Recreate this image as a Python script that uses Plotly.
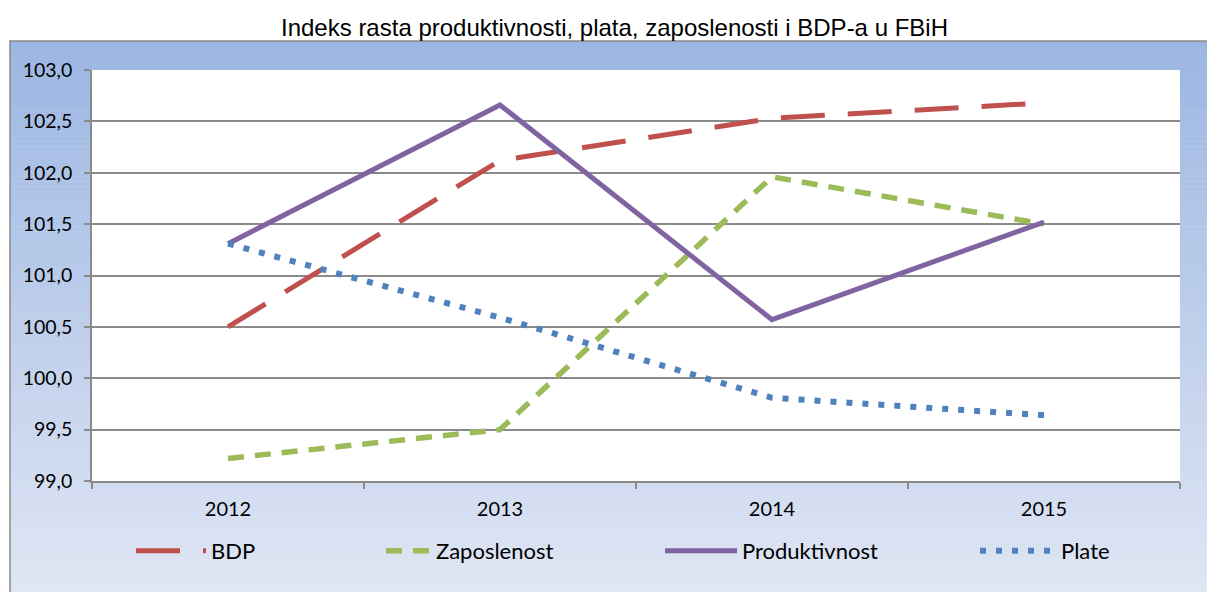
import plotly.graph_objects as go

# Chart data (index, previous year = 100)
years = ["2012", "2013", "2014", "2015"]
bdp = [100.5, 102.12, 102.53, 102.68]
zaposlenost = [99.22, 99.5, 101.96, 101.5]
produktivnost = [101.31, 102.66, 100.57, 101.52]
plate = [101.31, 100.59, 99.81, 99.64]

# the page body has an 8px margin, so the figure is made 8px smaller
OFF = 8
W, H = 1215 - OFF, 592 - OFF
L, R, T, B = 92, 1180, 70, 481  # plot area in window pixels


# window pixel -> paper coordinates
def px_x(p):
    return (p - L) / (R - L)


def px_y(p):
    return (B - p) / (B - T)


fig = go.Figure()

series = [
    ("BDP", bdp, "#C0504D", 5, "44px,23px", "legend"),
    ("Zaposlenost", zaposlenost, "#9BBB59", 5.5, "16px,11px", "legend2"),
    ("Produktivnost", produktivnost, "#8064A2", 5, "solid", "legend3"),
    ("Plate", plate, "#4F81BD", 6, "6px,10px", "legend4"),
]
for name, vals, color, width, dash, leg in series:
    fig.add_trace(go.Scatter(
        x=years, y=vals, name=name, mode="lines",
        line=dict(color=color, width=width, dash=dash),
        legend=leg,
    ))

# Gradient background of the chart frame (vertical bands)
top_c = (155, 182, 226)
bot_c = (224, 230, 244)
y0, y1 = 41, 592
shapes = []
n = 110
for i in range(n):
    a = y0 + (y1 - y0) * i / n
    b = y0 + (y1 - y0) * (i + 1) / n
    f = (i + 0.5) / n
    c = tuple(round(top_c[k] + (bot_c[k] - top_c[k]) * f) for k in range(3))
    shapes.append(dict(
        type="rect", xref="paper", yref="paper",
        x0=px_x(10), x1=px_x(1220), y0=px_y(b + 0.5), y1=px_y(a),
        fillcolor="rgb(%d,%d,%d)" % c, line=dict(width=0), layer="below",
    ))
# white plot area
shapes.append(dict(
    type="rect", xref="paper", yref="paper", x0=0, x1=1, y0=0, y1=1,
    fillcolor="white", line=dict(width=0), layer="below",
))
# frame border
shapes.append(dict(
    type="path", xref="paper", yref="paper",
    path="M %f %f L %f %f L %f %f" % (px_x(10), px_y(600), px_x(10), px_y(41), px_x(1220), px_y(41)),
    line=dict(color="#8A8A8A", width=1.5), layer="below",
))

font_c = "Lato, 'Noto Sans', sans-serif"
legend_common = dict(
    orientation="h", yanchor="middle", xanchor="left", y=px_y(551),
    bgcolor="rgba(0,0,0,0)", font=dict(family=font_c, size=22, color="black"),
)

fig.update_layout(
    width=W, height=H,
    margin=dict(l=L - OFF, r=1215 - R, t=T - OFF, b=592 - B, autoexpand=False),
    paper_bgcolor="white",
    plot_bgcolor="white",
    separators=",.",
    title=dict(
        text="Indeks rasta produktivnosti, plata, zaposlenosti i BDP-a u FBiH",
        x=px_x(614.5), xanchor="center", xref="paper",
        y=1 - (28 - OFF) / H, yanchor="middle", yref="container",
        font=dict(family="'Liberation Sans', Arial, sans-serif", size=24, color="black"),
    ),
    xaxis=dict(
        type="category", range=[-0.5, 3.5], tickson="boundaries",
        ticks="outside", ticklen=6, tickcolor="#8A8A8A", tickwidth=1.5,
        showline=True, linecolor="#8A8A8A", linewidth=1.5,
        showgrid=False, ticklabelstandoff=9, automargin=False,
        tickfont=dict(family=font_c, size=20, color="black"),
    ),
    yaxis=dict(
        range=[99, 103], dtick=0.5, tickformat=".1f",
        ticks="outside", ticklen=6, tickcolor="#8A8A8A", tickwidth=1.5,
        showline=True, linecolor="#8A8A8A", linewidth=1.5,
        gridcolor="#8A8A8A", gridwidth=1.5, zeroline=False,
        ticklabelstandoff=8, automargin=False,
        tickfont=dict(family=font_c, size=19.5, color="black"),
    ),
    shapes=shapes,
    legend=dict(legend_common, x=px_x(131), itemwidth=70),
    legend2=dict(legend_common, x=px_x(381), itemwidth=45),
    legend3=dict(legend_common, x=px_x(660), itemwidth=72),
    legend4=dict(legend_common, x=px_x(975), itemwidth=76),
    showlegend=True,
)

fig.write_html("out.html")
